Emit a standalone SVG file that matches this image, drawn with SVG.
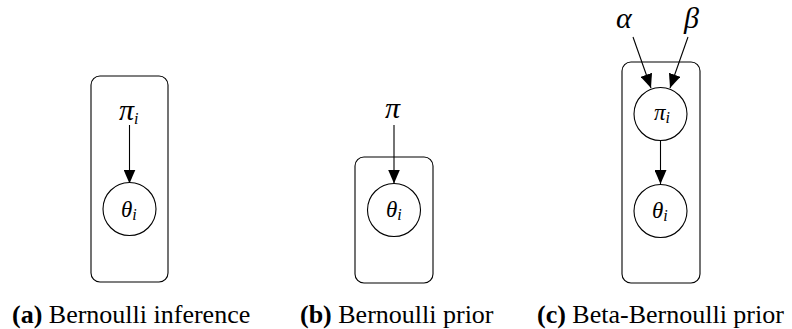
<svg xmlns="http://www.w3.org/2000/svg" width="792" height="329" viewBox="0 0 792 329">
<style>
.plate{fill:none;stroke:#000;stroke-width:1.1}
.node{fill:#fff;stroke:#000;stroke-width:1.1}
.edge{stroke:#000;stroke-width:1.1;fill:none}
</style>
<defs>
<marker id="ah" viewBox="0 0 14 12" refX="14" refY="6" markerWidth="14" markerHeight="12" markerUnits="userSpaceOnUse" orient="auto">
<path d="M0,0 L14,6 L0,12 Z" fill="#000"/>
</marker>
</defs>
<g id="connectors">
<line class="edge" x1="129.5" y1="125" x2="129.5" y2="183.5" marker-end="url(#ah)"/>
<line class="edge" x1="394" y1="125" x2="394" y2="183.5" marker-end="url(#ah)"/>
<line class="edge" x1="633" y1="37" x2="651" y2="88" marker-end="url(#ah)"/>
<line class="edge" x1="688" y1="37" x2="670" y2="88" marker-end="url(#ah)"/>
<line class="edge" x1="660.5" y1="141" x2="660.5" y2="184" marker-end="url(#ah)"/>
</g>
<g id="plate-a"><rect class="plate" x="91" y="76" width="77" height="206" rx="9"/></g>
<g id="pi-i-a"><text x="119" y="120" font-family="Times New Roman" font-style="italic" font-size="30">π<tspan font-size="16" dy="4">i</tspan></text></g>
<g id="theta-a"><circle class="node" cx="129.5" cy="209" r="26.5"/><text x="121" y="217" font-family="Times New Roman" font-style="italic" font-size="23">θ<tspan font-size="16" dy="3">i</tspan></text></g>
<g id="plate-b"><rect class="plate" x="355" y="157" width="78" height="126" rx="9"/></g>
<g id="pi-b"><text x="385" y="118" font-family="Times New Roman" font-style="italic" font-size="30">π</text></g>
<g id="theta-b"><circle class="node" cx="394" cy="210" r="26.5"/><text x="386" y="217" font-family="Times New Roman" font-style="italic" font-size="23">θ<tspan font-size="16" dy="3">i</tspan></text></g>
<g id="plate-c"><rect class="plate" x="622" y="62" width="78" height="221" rx="9"/></g>
<g id="alpha"><text x="616" y="28" font-family="Times New Roman" font-style="italic" font-size="30">α</text></g>
<g id="beta"><text x="684" y="28" font-family="Times New Roman" font-style="italic" font-size="30">β</text></g>
<g id="pi-i-c"><circle class="node" cx="660.5" cy="114" r="26.5"/><text x="654" y="120" font-family="Times New Roman" font-style="italic" font-size="23">π<tspan font-size="16" dy="3">i</tspan></text></g>
<g id="theta-c"><circle class="node" cx="660.5" cy="211" r="26.5"/><text x="652" y="218" font-family="Times New Roman" font-style="italic" font-size="23">θ<tspan font-size="16" dy="3">i</tspan></text></g>
<g id="captions">
<text x="12" y="323" font-family="Times New Roman" font-size="26"><tspan font-weight="bold">(a)</tspan> Bernoulli inference</text>
<text x="300" y="323" font-family="Times New Roman" font-size="26"><tspan font-weight="bold">(b)</tspan> Bernoulli prior</text>
<text x="537" y="323" font-family="Times New Roman" font-size="26"><tspan font-weight="bold">(c)</tspan> Beta-Bernoulli prior</text>
</g>
</svg>
